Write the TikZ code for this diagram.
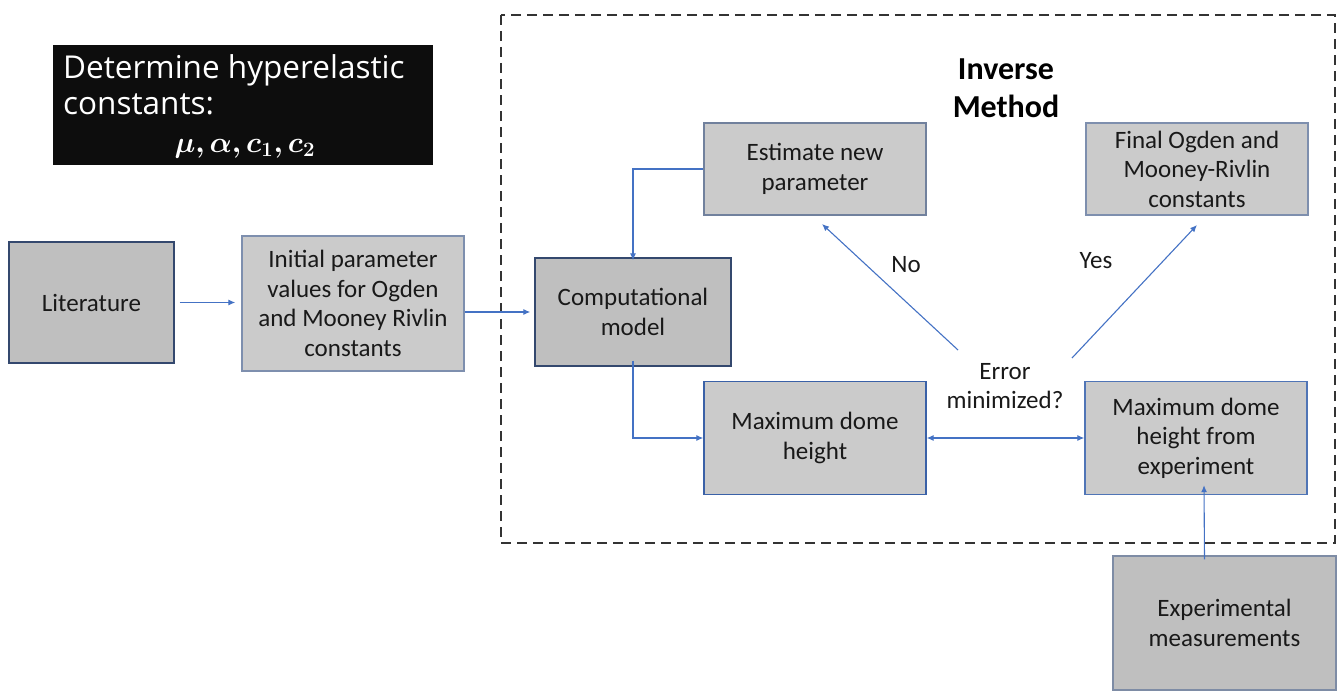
\documentclass[tikz,border=0pt]{standalone}
\usepackage{bm}
\usepackage{fontspec}
\setmainfont{Carlito}
\newfontfamily\headfont{Open Sans}
\usetikzlibrary{arrows.meta}
\definecolor{arrblue}{HTML}{4472C4}
\definecolor{darkfill}{HTML}{BFBFBF}
\definecolor{lightfill}{HTML}{CBCBCB}
\definecolor{darkedge}{HTML}{34486E}
\definecolor{lightedge}{HTML}{7E8FAE}
\tikzset{
  box/.style={draw, line width=1.4pt, inner sep=0pt, align=center,
    font=\fontsize{25}{29.5}\selectfont, text=black!90},
  conn/.style={draw=arrblue, line width=1.1pt, -{Latex[length=7pt,width=6pt]}},
  lbl/.style={font=\fontsize{25}{29.5}\selectfont, text=black!90, align=center, inner sep=0pt}
}
\begin{document}
\begin{tikzpicture}[x=1pt,y=-1pt]
\useasboundingbox (0,0) rectangle (1341,693);
% header
\node[fill=black!95, minimum width=380pt, minimum height=120pt, inner sep=0pt] (head) at (243,105) {};
\node[anchor=base west, text=white, font=\headfont\fontsize{31.5}{36}\selectfont, inner sep=0pt] (h1) at (63,78) {Determine hyperelastic};
\node[anchor=base west, text=white, font=\headfont\fontsize{31.5}{36}\selectfont, inner sep=0pt] (h2) at (63,114) {constants:};
\node[anchor=base, text=white, font=\fontsize{17.28}{20}\selectfont, scale=1.7, inner sep=0pt] (h3) at (245,152) {$\bm{\mu,\alpha,c_1,c_2}$};
% dashed frame
\draw[draw=black!80, line width=2.4pt, dash pattern=on 10pt off 6pt] (501,15) rectangle (1335,543);
\node[font=\bfseries\fontsize{32}{38}\selectfont, align=center, inner sep=0pt] (title) at (1006,88) {Inverse\\Method};
% boxes
\node[box, fill=darkfill, draw=darkedge, minimum width=165pt, minimum height=121pt] (lit) at (91.5,302.5) {Literature};
\node[box, fill=lightfill, draw=lightedge, minimum width=222pt, minimum height=135pt] (init) at (353,303.5) {Initial parameter\\values for Ogden\\and Mooney Rivlin\\constants};
\node[box, fill=darkfill, draw=darkedge, minimum width=196pt, minimum height=108pt] (comp) at (633,312) {Computational\\model};
\node[box, fill=lightfill, draw=lightedge!90!black, minimum width=222pt, minimum height=92pt] (est) at (815,169) {Estimate new\\parameter};
\node[box, fill=lightfill, draw=lightedge, minimum width=222pt, minimum height=92pt] (fin) at (1197,169) {Final Ogden and\\Mooney-Rivlin\\constants};
\node[box, fill=lightfill, draw=arrblue!85!black, minimum width=222pt, minimum height=113pt] (mdh) at (815,438) {Maximum dome\\height};
\node[box, fill=lightfill, draw=arrblue!80!gray, minimum width=222pt, minimum height=113pt] (mde) at (1196,438) {Maximum dome\\height from\\experiment};
\node[box, fill=darkfill, draw=lightedge!80!gray, minimum width=223pt, minimum height=134pt] (exp) at (1224.5,623) {Experimental\\measurements};
% labels
\node[lbl] (err) at (1005,386) {Error\\minimized?};
\node[lbl] (no) at (906,265) {No};
\node[lbl] (yes) at (1096,261) {Yes};
% anchor points
\coordinate (noS) at (958,350);
\coordinate (noE) at (822,224);
\coordinate (yesS) at (1072,358);
\coordinate (yesE) at (1197,225);
% connectors
\draw[conn] ([xshift=5pt]lit.east) -- ([xshift=-6pt]init.west |- lit.east);
\draw[conn] (init.east |- comp.west) -- ([xshift=-4pt]comp.west);
\draw[conn] (est.west) -| ([yshift=-3pt]comp.north);
\draw[conn] ([yshift=6pt]comp.south) |- (mdh.west);
\draw[conn, {Latex[length=7pt,width=6pt]}-{Latex[length=7pt,width=6pt]}] (mdh.east) -- (mde.west);
\draw[conn] (noS) -- (noE);
\draw[conn] (yesS) -- (yesE);
\draw[conn] ([xshift=-20pt,yshift=-4pt]exp.north) -- ([xshift=8pt,yshift=10pt]mde.south);
\end{tikzpicture}
\end{document}
